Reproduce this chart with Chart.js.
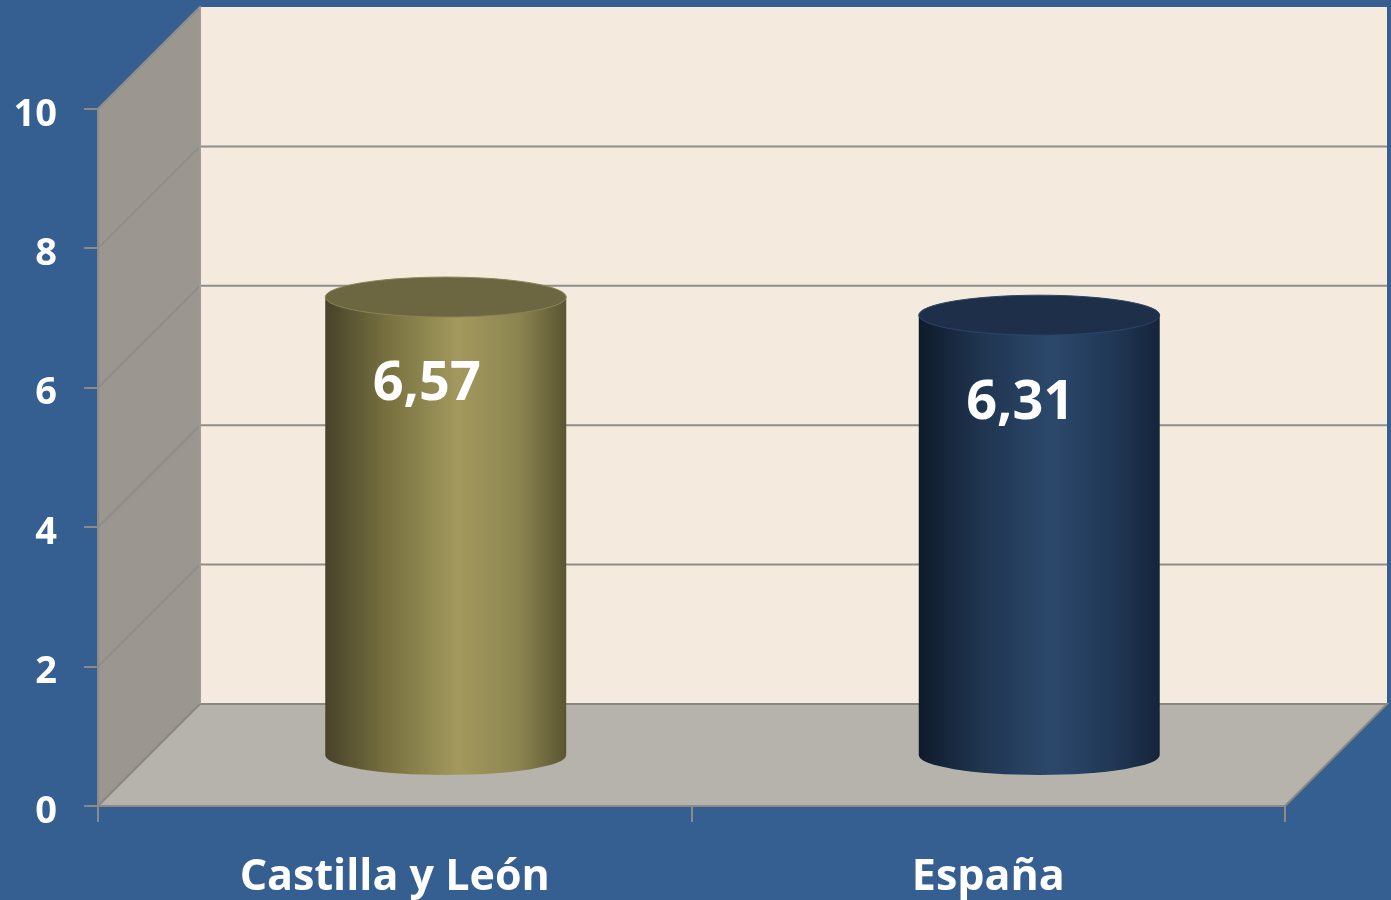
<!DOCTYPE html>
<html><head><meta charset="utf-8">
<script src="https://cdn.jsdelivr.net/npm/chart.js@4/dist/chart.umd.min.js"></script>
<style>html,body{margin:0;padding:0;background:#355E91;overflow:hidden}#wrap{width:1391px;height:900px}</style>
</head><body><div id="wrap"><canvas id="c" width="1391" height="900"></canvas></div>
<script>
const categories = ['Castilla y León', 'España'];
const values = [6.57, 6.31];
const yTickValues = [0, 2, 4, 6, 8, 10];
const valueLabels = values.map(v => v.toFixed(2).replace('.', ','));
const cylinderColors = [
  {stops:['#47422A','#76703F','#A3995E','#8D8551','#5A5531'], top:'#6C6741', edge:'#8A8458'},
  {stops:['#0F1A2B','#1F344F','#2B486B','#213856','#16243B'], top:'#1D2F49', edge:'#2E4666'}
];

const DEPTH = 102;
const BG = '#355E91';

const threeD = {
  id: 'threeD',
  beforeDraw(chart) {
    const {ctx, chartArea: a, scales: {y}} = chart;
    ctx.save();
    ctx.fillStyle = BG;
    ctx.fillRect(0, 0, chart.width, chart.height);
    const L = a.left, R = a.right, T = y.getPixelForValue(10), B = y.getPixelForValue(0);
    // back wall
    ctx.fillStyle = '#F4EBDE';
    ctx.fillRect(L + DEPTH, T - DEPTH, R - L, B - T);
    // side wall
    ctx.fillStyle = '#9C9690';
    ctx.beginPath();
    ctx.moveTo(L, T); ctx.lineTo(L + DEPTH, T - DEPTH); ctx.lineTo(L + DEPTH, B - DEPTH); ctx.lineTo(L, B); ctx.closePath();
    ctx.fill();
    ctx.strokeStyle = '#8C8A86'; ctx.lineWidth = 1.5; ctx.stroke();
    // floor
    ctx.fillStyle = '#B6B3AC';
    ctx.beginPath();
    ctx.moveTo(L, B); ctx.lineTo(L + DEPTH, B - DEPTH); ctx.lineTo(R + DEPTH, B - DEPTH); ctx.lineTo(R, B); ctx.closePath();
    ctx.fill();
    ctx.strokeStyle = '#8A8884'; ctx.lineWidth = 2; ctx.stroke();
    // gridlines
    ctx.strokeStyle = '#8E8D8A'; ctx.lineWidth = 2;
    yTickValues.forEach(v => {
      if (v === 0) return;
      const py = y.getPixelForValue(v);
      ctx.beginPath();
      ctx.moveTo(L, py); ctx.lineTo(L + DEPTH, py - DEPTH);
      if (v !== 10) ctx.lineTo(R + DEPTH, py - DEPTH);
      ctx.stroke();
    });
    // back wall left edge
    ctx.strokeStyle = '#A09E9A'; ctx.lineWidth = 1.5;
    ctx.beginPath();
    ctx.moveTo(L + DEPTH, T - DEPTH); ctx.lineTo(L + DEPTH, B - DEPTH);
    ctx.stroke();
    ctx.restore();
  },
  afterDatasetsDraw(chart) {
    const {ctx, scales: {y}} = chart;
    const meta = chart.getDatasetMeta(0);
    ctx.save();
    meta.data.forEach((bar, i) => {
      const rx = bar.width / 2, ry = 20;
      const cx = bar.x + DEPTH / 2;
      const baseY = y.getPixelForValue(0) - DEPTH / 2;
      const topY = y.getPixelForValue(values[i]) - DEPTH / 2;
      const col = cylinderColors[i];
      const g = ctx.createLinearGradient(cx - rx, 0, cx + rx, 0);
      const pos = [0, 0.25, 0.55, 0.8, 1];
      col.stops.forEach((c, k) => g.addColorStop(pos[k], c));
      ctx.fillStyle = g;
      ctx.beginPath();
      ctx.moveTo(cx - rx, topY);
      ctx.lineTo(cx - rx, baseY);
      ctx.ellipse(cx, baseY, rx, ry, 0, Math.PI, 0, true);
      ctx.lineTo(cx + rx, topY);
      ctx.closePath();
      ctx.fill();
      ctx.fillStyle = col.top;
      ctx.beginPath();
      ctx.ellipse(cx, topY, rx, ry, 0, 0, Math.PI * 2);
      ctx.fill();
      ctx.strokeStyle = col.edge; ctx.lineWidth = 1;
      ctx.stroke();
      // value label
      ctx.fillStyle = '#FFFFFF';
      ctx.font = 'bold 54px "Open Sans"';
      ctx.textAlign = 'center';
      ctx.textBaseline = 'middle';
      ctx.fillText(valueLabels[i], cx - 19, topY + 88);
    });
    ctx.restore();
  }
};

new Chart(document.getElementById('c'), {
  type: 'bar',
  data: {
    labels: categories,
    datasets: [{
      data: values,
      backgroundColor: 'rgba(0,0,0,0)',
      borderWidth: 0,
      barPercentage: 0.406,
      categoryPercentage: 1
    }]
  },
  options: {
    responsive: false,
    animation: false,
    devicePixelRatio: 1,
    layout: {padding: {left: 0, top: 109, right: 106, bottom: 0}},
    plugins: {legend: {display: false}, tooltip: {enabled: false}},
    scales: {
      x: {
        type: 'category',
        offset: true,
        grid: {display: true, offset: true, drawOnChartArea: false, drawTicks: true, tickLength: 16, color: '#8A8A8A', lineWidth: 2},
        border: {display: true, color: '#8A8A8A', width: 2},
        ticks: {color: '#FFFFFF', font: {family: 'Open Sans', weight: 'bold', size: 43}, padding: 30, maxRotation: 0, autoSkip: false},
        afterFit(s) { s.height = 94; }
      },
      y: {
        min: 0, max: 10,
        afterBuildTicks(s) { s.ticks = yTickValues.map(v => ({value: v})); },
        grid: {display: true, drawOnChartArea: false, drawTicks: true, tickLength: 14, color: '#8A8A8A', lineWidth: 2},
        border: {display: true, color: '#8A8A8A', width: 2},
        ticks: {
          color: '#FFFFFF', font: {family: 'Open Sans', weight: 'bold', size: 38, lineHeight: 0.3}, padding: 27,
          callback: (v) => ['', String(v)]
        },
        afterFit(s) { s.width = 98; }
      }
    }
  },
  plugins: [threeD]
});
</script>
</body></html>
